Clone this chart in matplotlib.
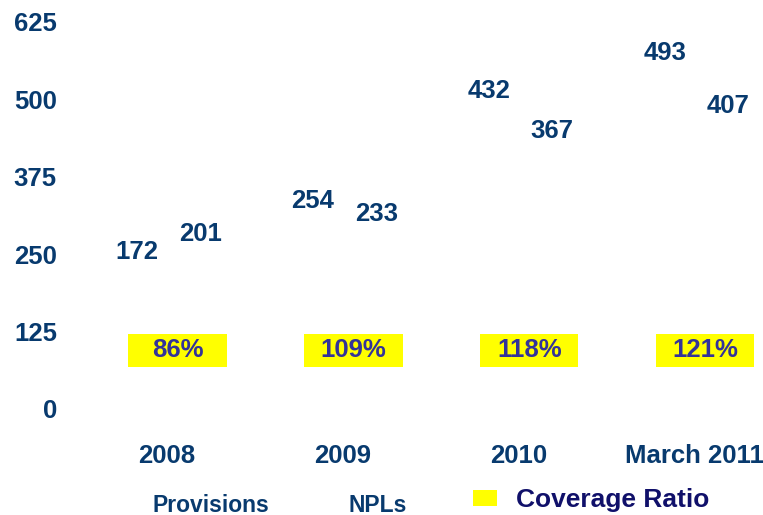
import numpy as np
import matplotlib.pyplot as plt
from matplotlib.patches import Patch, Rectangle

plt.rcParams['font.family'] = ['Liberation Sans', 'DejaVu Sans']
plt.rcParams['font.weight'] = 'bold'

categories = ["2008", "2009", "2010", "March 2011"]
provisions = [172, 254, 432, 493]
npls = [201, 233, 367, 407]
coverage = [86, 109, 118, 121]

navy = "#083A6E"
ratio_col = "#333399"
yellow = "#FFFF00"

fig = plt.figure(figsize=(7.63, 5.15), dpi=100)
ax = fig.add_axes([75 / 763, 106 / 515, 688 / 763, 387 / 515])

x = np.arange(len(categories))
w = 0.34
ax.bar(x - w / 2, provisions, w, color="white", label="Provisions")
ax.bar(x + w / 2, npls, w, color="white", label="NPLs")

# value labels float above the (blank) bars
for xi, v in zip(x - w / 2, provisions):
    ax.text(xi, v + 82, str(v), ha="center", va="center", fontsize=18.5, color=navy)
for xi, v in zip(x + w / 2 + 0.02, npls):
    ax.text(xi, v + 82, str(v), ha="center", va="center", fontsize=18.5, color=navy)

# coverage ratio in yellow boxes
for xi, c in zip(x, coverage):
    ax.add_patch(Rectangle((xi + 0.06 - 0.28, 95 - 26.5), 0.56, 53,
                           facecolor=yellow, edgecolor="none", zorder=2))
    ax.text(xi + 0.06, 95, f"{c}%", ha="center", va="center",
            fontsize=18.5, color=ratio_col, zorder=3)

ax.set_ylim(0, 625)
ax.set_xlim(-0.524, 3.39)
ax.set_yticks([0, 125, 250, 375, 500, 625])
ax.set_xticks(x)
ax.set_xticklabels(categories)
ax.tick_params(axis="y", length=0, pad=13, labelsize=18.5, labelcolor=navy)
ax.tick_params(axis="x", length=0, pad=25, labelsize=18.5, labelcolor=navy)
for s in ax.spines.values():
    s.set_visible(False)

leg1 = fig.legend(handles=[Patch(facecolor="white", label="Provisions"),
                           Patch(facecolor="white", label="NPLs")],
                  loc="center left", bbox_to_anchor=(152 / 763, 1 - 505 / 515),
                  ncol=2, frameon=False, fontsize=16.5, handlelength=0, handletextpad=0,
                  columnspacing=3.5, borderpad=0, borderaxespad=0)
for t in leg1.get_texts():
    t.set_color(navy)

leg2 = fig.legend(handles=[Patch(facecolor=yellow, label="Coverage Ratio")],
                  loc="center left", bbox_to_anchor=(473 / 763, 1 - 500 / 515),
                  frameon=False, fontsize=19,
                  handlelength=0.9, handleheight=0.57, handletextpad=0.72,
                  borderpad=0, borderaxespad=0)
leg2.get_texts()[0].set_color("#10106A")

fig.savefig("out.png", dpi=100)
